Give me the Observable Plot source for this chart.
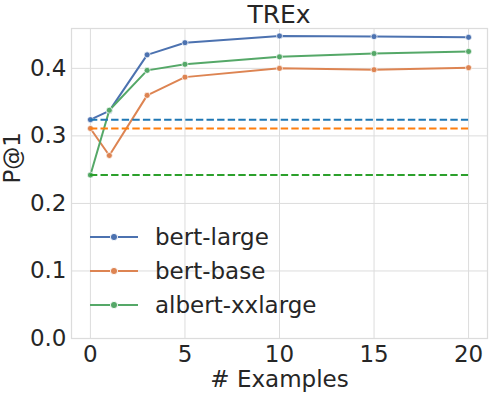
<!DOCTYPE html>
<html>
<head>
<meta charset="utf-8">
<script src="https://cdn.jsdelivr.net/npm/d3@7"></script>
<script src="https://cdn.jsdelivr.net/npm/@observablehq/plot@0.6"></script>
<style>
  body { margin: 0; background: #fff; }
  #wrap { position: relative; width: 490px; height: 394px; font-family: "DejaVu Sans", sans-serif; color: #262626; overflow: hidden; }
  #title { box-sizing: border-box; width: 490px; height: 28px; padding-left: 71px; padding-right: 3px; font-size: 25px; line-height: 29px; text-align: center; }
  #chart svg { display: block; }
  #legend { position: absolute; left: 0; top: 0; font-size: 23px; }
  .entry { position: absolute; left: 88px; height: 30px; display: flex; align-items: center; white-space: nowrap; }
  .entry svg { display: block; margin-right: 15px; }
</style>
</head>
<body>
<div id="wrap">
  <div id="title">TREx</div>
  <div id="chart"></div>
  <div id="legend"></div>
</div>
<script>
// ---- data ----
const examples = [0, 1, 3, 5, 10, 15, 20];
const seriesNames = ["bert-large", "bert-base", "albert-xxlarge"];
const bertLarge = [0.324, 0.337, 0.420, 0.438, 0.448, 0.447, 0.446];
const bertBase = [0.311, 0.271, 0.360, 0.387, 0.400, 0.398, 0.401];
const albertXXL = [0.242, 0.338, 0.397, 0.406, 0.417, 0.422, 0.425];
const baselines = [0.324, 0.311, 0.242];   // zero-shot reference (dashed)
const xTicks = [0, 5, 10, 15, 20];
const yTicks = [0, 0.1, 0.2, 0.3, 0.4];

// ---- styles ----
const lineColors = ["#4c72b0", "#dd8452", "#55a868"];
const dashColors = ["#1f77b4", "#ff7f0e", "#2ca02c"];
const gridColor = "#dcdcdc";
const textColor = "#262626";

const allValues = [bertLarge, bertBase, albertXXL];
const rows = [];
allValues.forEach((vals, s) => examples.forEach((x, i) => rows.push({ series: seriesNames[s], x, y: vals[i] })));
const baseRows = baselines.map((v, s) => ({ series: seriesNames[s], y: v }));

const marks = [
  Plot.gridX(xTicks, { stroke: gridColor, strokeOpacity: 1, strokeWidth: 1 }),
  Plot.gridY(yTicks, { stroke: gridColor, strokeOpacity: 1, strokeWidth: 1 }),
  Plot.frame({ stroke: gridColor, strokeWidth: 1.25 }),
  Plot.axisX(xTicks, { tickSize: 0, tickPadding: 7, fontSize: 23, fill: textColor, label: null }),
  Plot.axisY(yTicks, { tickSize: 0, tickPadding: 5, fontSize: 23, fill: textColor, tickFormat: d3.format(".1f"), label: null }),
  Plot.text(["P@1"], { frameAnchor: "left", rotate: -90, dx: -58.5, fontSize: 23, fill: textColor }),
  Plot.text(["# Examples"], { frameAnchor: "bottom", lineAnchor: "bottom", dy: 48.5, fontSize: 23, fill: textColor })
];
seriesNames.forEach((name, s) => {
  const d = rows.filter(r => r.series === name);
  marks.push(Plot.line(d, { x: "x", y: "y", stroke: lineColors[s], strokeWidth: 2 }));
  marks.push(Plot.dot(d, { x: "x", y: "y", r: 3, fill: lineColors[s], stroke: "white", strokeWidth: 0.7 }));
});
seriesNames.forEach((name, s) => {
  marks.push(Plot.ruleY(baseRows.filter(r => r.series === name), { y: "y", x1: examples[0], x2: examples[examples.length - 1], stroke: dashColors[s], strokeWidth: 2, strokeDasharray: "7.4,3.2" }));
});

const chart = Plot.plot({
  width: 490,
  height: 366,
  marginLeft: 71,
  marginRight: 3,
  marginTop: 0,
  marginBottom: 56,
  style: { fontFamily: "DejaVu Sans, sans-serif", background: "white", overflow: "visible" },
  x: { domain: [-1, 21] },
  y: { domain: [0, 0.459] },
  marks
});
document.getElementById("chart").appendChild(chart);

// ---- legend (overlay inside the plot area) ----
const legend = document.getElementById("legend");
seriesNames.forEach((name, s) => {
  const e = document.createElement("div");
  e.className = "entry";
  e.style.top = (236.7 - 15 + 34 * s) + "px";
  e.innerHTML = `<svg width="52" height="12"><line x1="2" x2="50" y1="6" y2="6" stroke="${lineColors[s]}" stroke-width="2"/><circle cx="26" cy="6" r="3.6" fill="${lineColors[s]}" stroke="white" stroke-width="0.9"/></svg><span>${name}</span>`;
  legend.appendChild(e);
});
</script>
</body>
</html>
